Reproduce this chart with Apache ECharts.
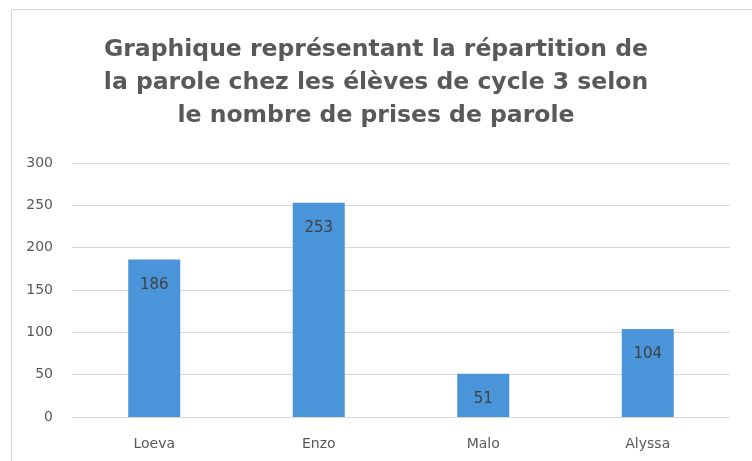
<!DOCTYPE html>
<html>
<head>
<meta charset="utf-8">
<script src="https://cdn.jsdelivr.net/npm/echarts@6/dist/echarts.min.js"></script>
<style>
html,body{margin:0;padding:0;background:#fff;}
#chart{width:752px;height:461px;}
</style>
</head>
<body>
<div id="chart"></div>
<script>
const categories = ['Loeva', 'Enzo', 'Malo', 'Alyssa'];
const values = [186, 253, 51, 104];
const yTicks = [0, 50, 100, 150, 200, 250, 300];
const titleText = 'Graphique représentant la répartition de\nla parole chez les élèves de cycle 3 selon\nle nombre de prises de parole';

const chart = echarts.init(document.getElementById('chart'), null, {renderer: 'canvas'});
chart.setOption({
  backgroundColor: '#ffffff',
  animation: false,
  graphic: [{
    type: 'rect',
    shape: {x: 11.5, y: 9.5, width: 800, height: 500},
    style: {fill: 'none', stroke: '#d9d9d9', lineWidth: 1},
    silent: true
  }],
  title: {
    text: titleText,
    left: 'center',
    top: 28,
    textStyle: {
      fontFamily: '"DejaVu Sans", sans-serif',
      fontWeight: 'bold',
      fontSize: 23.5,
      lineHeight: 33,
      color: '#595959'
    }
  },
  grid: {left: 72, right: 22, top: 163, bottom: 44},
  xAxis: {
    type: 'category',
    data: categories,
    axisLine: {show: false},
    axisTick: {show: false},
    axisLabel: {
      margin: 20,
      fontFamily: '"DejaVu Sans", sans-serif',
      fontSize: 14,
      color: '#595959'
    }
  },
  yAxis: {
    type: 'value',
    min: yTicks[0],
    max: yTicks[yTicks.length - 1],
    interval: 50,
    axisLine: {show: false},
    axisTick: {show: false},
    splitLine: {lineStyle: {color: '#d9d9d9', width: 1}},
    axisLabel: {
      margin: 19,
      fontFamily: '"DejaVu Sans", sans-serif',
      fontSize: 14,
      color: '#595959'
    }
  },
  series: [{
    type: 'bar',
    data: values,
    barWidth: 52,
    itemStyle: {color: '#4a94d9'},
    label: {
      show: true,
      position: 'insideTop',
      distance: 18,
      fontFamily: '"DejaVu Sans", sans-serif',
      fontSize: 15,
      color: '#404040'
    }
  }]
});
</script>
</body>
</html>
